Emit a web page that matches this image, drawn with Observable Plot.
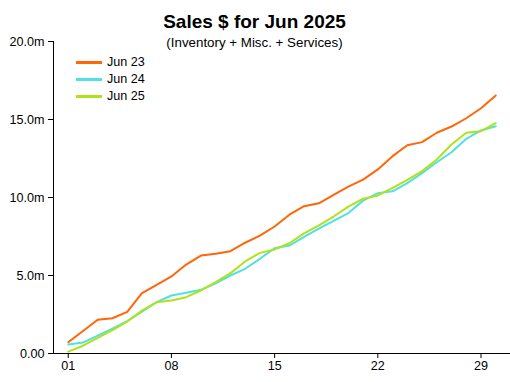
<!DOCTYPE html>
<html>
<head>
<meta charset="utf-8">
<script src="https://cdn.jsdelivr.net/npm/d3@7"></script>
<script src="https://cdn.jsdelivr.net/npm/@observablehq/plot@0.6"></script>
<style>
  html, body { margin: 0; padding: 0; background: #fff; }
  #wrap { position: relative; width: 510px; height: 382px; font-family: "Liberation Sans", Arial, sans-serif; color: #000; }
  #title { position: absolute; left: 0; width: 509px; top: 12px; text-align: center; font-weight: bold; font-size: 19px; line-height: 19px; }
  #subtitle { position: absolute; left: 0; width: 509px; top: 36px; text-align: center; font-size: 13.33px; line-height: 13.33px; }
  #legend { position: absolute; left: 76px; top: 53.5px; font-size: 12.6px; }
  .row { display: flex; align-items: center; height: 17px; }
  .sw { width: 26px; height: 3px; margin-right: 5px; }
  svg { display: block; }
</style>
</head>
<body>
<div id="wrap">
  <div id="chart"></div>
  <div id="title">Sales $ for Jun 2025</div>
  <div id="subtitle">(Inventory + Misc. + Services)</div>
  <div id="legend"></div>
</div>
<script>
const days = [1,2,3,4,5,6,7,8,9,10,11,12,13,14,15,16,17,18,19,20,21,22,23,24,25,26,27,28,29,30];
const jun23 = [0.72,1.44,2.16,2.26,2.67,3.87,4.40,4.94,5.70,6.28,6.39,6.56,7.10,7.56,8.14,8.90,9.44,9.63,10.17,10.70,11.15,11.80,12.65,13.35,13.55,14.15,14.55,15.08,15.72,16.54];
const jun24 = [0.58,0.70,1.15,1.60,2.07,2.68,3.29,3.72,3.89,4.08,4.50,5.00,5.43,6.07,6.75,6.92,7.48,8.00,8.50,9.00,9.80,10.28,10.40,10.92,11.56,12.26,12.90,13.76,14.30,14.57];
const jun25 = [0.12,0.50,1.00,1.50,2.05,2.75,3.29,3.40,3.61,4.04,4.57,5.15,5.90,6.45,6.67,7.07,7.70,8.22,8.78,9.42,9.92,10.13,10.62,11.13,11.69,12.44,13.40,14.15,14.25,14.76];
const seriesNames = ["Jun 23", "Jun 24", "Jun 25"];
const seriesColors = ["#ff6608", "#52e0e0", "#aee31a"];
const xTickValues = [1, 8, 15, 22, 29];
const xTickLabels = ["01", "08", "15", "22", "29"];
const yTickValues = [0, 5, 10, 15, 20];
const yTickLabels = ["0.00", "5.0m", "10.0m", "15.0m", "20.0m"];

const seriesValues = [jun23, jun24, jun25];
const data = seriesNames.flatMap((name, i) =>
  days.map((d, j) => ({series: name, day: d, value: seriesValues[i][j]}))
);

const chart = Plot.plot({
  width: 510,
  height: 382,
  marginTop: 41,
  marginBottom: 29,
  marginLeft: 53,
  marginRight: 0,
  style: {fontFamily: "'Liberation Sans', Arial, sans-serif", fontSize: "12.6px", color: "#000", background: "#fff", overflow: "visible"},
  x: {domain: [0, 31], ticks: xTickValues, tickFormat: d => xTickLabels[xTickValues.indexOf(d)], tickSize: 5, tickPadding: 3, label: null},
  y: {domain: [0, 20], ticks: yTickValues, tickFormat: d => yTickLabels[yTickValues.indexOf(d)], tickSize: 5, tickPadding: 4, label: null},
  color: {domain: seriesNames, range: seriesColors},
  marks: [
    Plot.lineY(data, {x: "day", y: "value", z: "series", stroke: "series", strokeWidth: 2}),
    Plot.ruleX([0], {stroke: "#000"}),
    Plot.ruleY([0], {stroke: "#000"})
  ]
});
document.getElementById("chart").appendChild(chart);

const legend = document.getElementById("legend");
seriesNames.forEach((name, i) => {
  const row = document.createElement("div");
  row.className = "row";
  const sw = document.createElement("div");
  sw.className = "sw";
  sw.style.background = seriesColors[i];
  const t = document.createElement("span");
  t.textContent = name;
  row.appendChild(sw);
  row.appendChild(t);
  legend.appendChild(row);
});
</script>
</body>
</html>
